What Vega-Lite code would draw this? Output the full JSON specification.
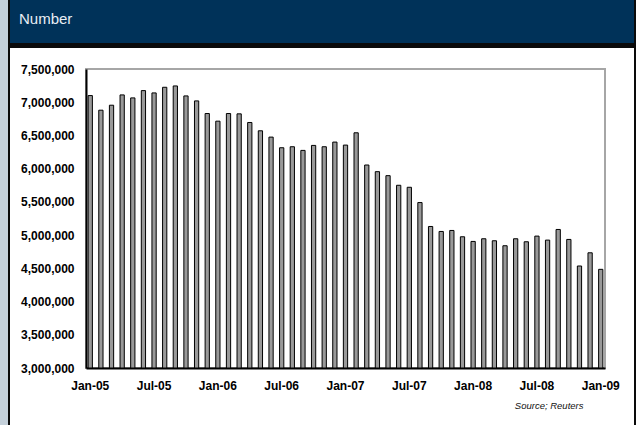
{
  "$schema": "https://vega.github.io/schema/vega-lite/v6.json",
  "padding": 0,
  "background": "#ffffff",
  "spacing": 0,
  "config": {
    "view": {"stroke": null},
    "font": "Liberation Sans",
    "axis": {
      "labelFont": "Liberation Sans",
      "labelFontWeight": "bold",
      "labelFontSize": 12,
      "labelColor": "#000000",
      "ticks": false,
      "tickSize": 0,
      "grid": false,
      "domainColor": "#000000",
      "domainWidth": 2
    }
  },
  "hconcat": [
    {
      "width": 8,
      "height": 425,
      "data": {"values": [{"part": "strip"}]},
      "mark": {"type": "rect", "color": "#c4d0da"}
    },
    {
      "width": 2,
      "height": 425,
      "data": {"values": [{"part": "border"}]},
      "mark": {"type": "rect", "color": "#0a0a0a"}
    },
    {
      "spacing": 0,
      "vconcat": [
        {
          "width": 624,
          "height": 43,
          "data": {"values": [{"part": "header"}]},
          "mark": {"type": "rect", "color": "#003259"},
          "title": {
            "text": "Number",
            "anchor": "start",
            "frame": "group",
            "orient": "top",
            "offset": -34,
            "baseline": "middle",
            "dx": 9,
            "color": "#e8eef4",
            "font": "Liberation Sans",
            "fontSize": 15,
            "fontWeight": "normal"
          }
        },
        {
          "width": 624,
          "height": 5,
          "data": {"values": [{"part": "rule"}]},
          "mark": {"type": "rect", "color": "#0a0a0a"}
        },
        {
          "spacing": 13,
          "vconcat": [
            {
              "width": 1,
              "height": 1,
              "data": {"values": [{"part": "spacer"}]},
              "mark": {"type": "rect", "color": "#ffffff"}
            },
            {
              "spacing": 8,
              "hconcat": [
                {
                  "width": 1,
                  "height": 1,
                  "data": {"values": [{"part": "spacer"}]},
                  "mark": {"type": "rect", "color": "#ffffff"}
                },
                {
                  "width": 519,
                  "height": 299,
                  "view": {"stroke": "#a6a6a6", "strokeWidth": 2},
                  "data": {
                    "values": [
                      {"month": "Jan-05", "value": 7100000},
                      {"month": "Feb-05", "value": 6880000},
                      {"month": "Mar-05", "value": 6955000},
                      {"month": "Apr-05", "value": 7110000},
                      {"month": "May-05", "value": 7065000},
                      {"month": "Jun-05", "value": 7175000},
                      {"month": "Jul-05", "value": 7140000},
                      {"month": "Aug-05", "value": 7225000},
                      {"month": "Sep-05", "value": 7245000},
                      {"month": "Oct-05", "value": 7095000},
                      {"month": "Nov-05", "value": 7020000},
                      {"month": "Dec-05", "value": 6830000},
                      {"month": "Jan-06", "value": 6715000},
                      {"month": "Feb-06", "value": 6830000},
                      {"month": "Mar-06", "value": 6825000},
                      {"month": "Apr-06", "value": 6695000},
                      {"month": "May-06", "value": 6570000},
                      {"month": "Jun-06", "value": 6475000},
                      {"month": "Jul-06", "value": 6315000},
                      {"month": "Aug-06", "value": 6330000},
                      {"month": "Sep-06", "value": 6275000},
                      {"month": "Oct-06", "value": 6350000},
                      {"month": "Nov-06", "value": 6330000},
                      {"month": "Dec-06", "value": 6400000},
                      {"month": "Jan-07", "value": 6355000},
                      {"month": "Feb-07", "value": 6540000},
                      {"month": "Mar-07", "value": 6055000},
                      {"month": "Apr-07", "value": 5955000},
                      {"month": "May-07", "value": 5895000},
                      {"month": "Jun-07", "value": 5750000},
                      {"month": "Jul-07", "value": 5720000},
                      {"month": "Aug-07", "value": 5490000},
                      {"month": "Sep-07", "value": 5130000},
                      {"month": "Oct-07", "value": 5055000},
                      {"month": "Nov-07", "value": 5070000},
                      {"month": "Dec-07", "value": 4975000},
                      {"month": "Jan-08", "value": 4905000},
                      {"month": "Feb-08", "value": 4945000},
                      {"month": "Mar-08", "value": 4915000},
                      {"month": "Apr-08", "value": 4840000},
                      {"month": "May-08", "value": 4945000},
                      {"month": "Jun-08", "value": 4900000},
                      {"month": "Jul-08", "value": 4985000},
                      {"month": "Aug-08", "value": 4925000},
                      {"month": "Sep-08", "value": 5085000},
                      {"month": "Oct-08", "value": 4935000},
                      {"month": "Nov-08", "value": 4535000},
                      {"month": "Dec-08", "value": 4734000},
                      {"month": "Jan-09", "value": 4485000}
                    ]
                  },
                  "mark": {"type": "bar", "fill": "#999999", "stroke": "#000000", "strokeWidth": 1},
                  "encoding": {
                    "x": {
                      "field": "month",
                      "type": "ordinal",
                      "sort": null,
                      "scale": {"paddingInner": 0.6, "paddingOuter": 0.2},
                      "axis": {
                        "values": ["Jan-05", "Jul-05", "Jan-06", "Jul-06", "Jan-07", "Jul-07", "Jan-08", "Jul-08", "Jan-09"],
                        "labelAngle": 0,
                        "labelPadding": 12,
                        "title": "Source; Reuters",
                        "titleFont": "Liberation Sans",
                        "titleFontStyle": "italic",
                        "titleFontWeight": "normal",
                        "titleFontSize": 9.5,
                        "titleColor": "#111111",
                        "titleAlign": "right",
                        "titleBaseline": "middle",
                        "titleX": 497,
                        "titleY": 37
                      }
                    },
                    "y": {
                      "field": "value",
                      "type": "quantitative",
                      "scale": {"domain": [3000000, 7500000], "zero": false, "nice": false},
                      "axis": {
                        "values": [3000000, 3500000, 4000000, 4500000, 5000000, 5500000, 6000000, 6500000, 7000000, 7500000],
                        "format": ",d",
                        "labelPadding": 12,
                        "title": null
                      }
                    },
                    "y2": {"datum": 3000000}
                  }
                }
              ]
            }
          ]
        }
      ]
    },
    {
      "width": 2,
      "height": 425,
      "data": {"values": [{"part": "border"}]},
      "mark": {"type": "rect", "color": "#0a0a0a"}
    }
  ]
}
